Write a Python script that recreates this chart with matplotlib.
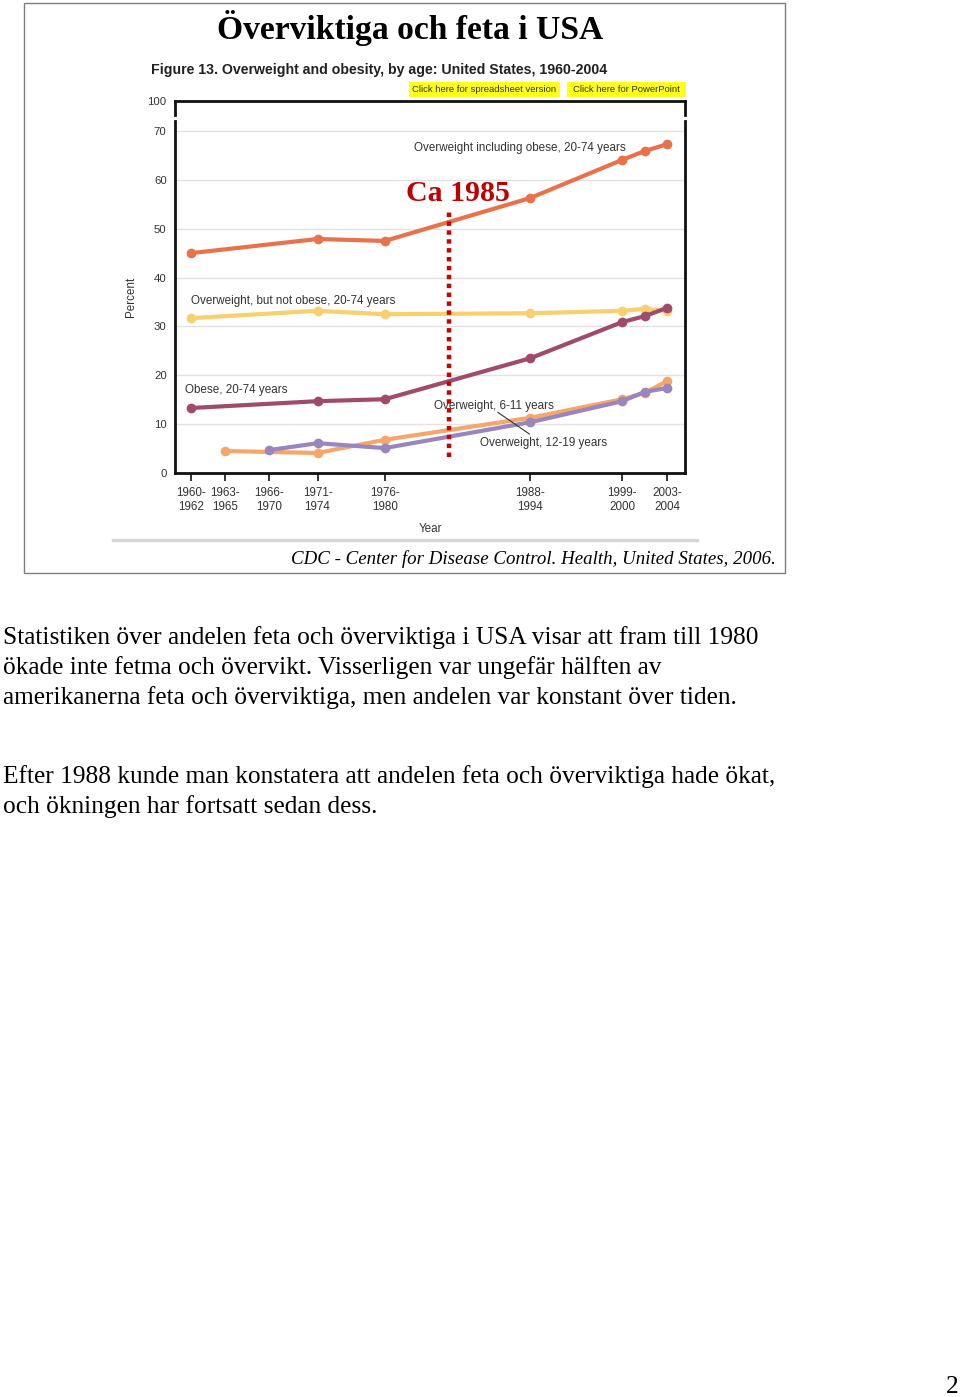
import matplotlib
matplotlib.use("Agg")
import matplotlib.pyplot as plt
from matplotlib.patches import Rectangle
from matplotlib.lines import Line2D

# ---------------- data ----------------
tick_years = [1961, 1964, 1968, 1972.3, 1978.3, 1991.3, 1999.5, 2003.5]
tick_labels = ["1960-\n1962", "1963-\n1965", "1966-\n1970", "1971-\n1974",
               "1976-\n1980", "1988-\n1994", "1999-\n2000", "2003-\n2004"]

adult_years = [1961, 1972.3, 1978.3, 1991.3, 1999.5, 2001.5, 2003.5]
overweight_incl_obese = [45.0, 47.9, 47.5, 56.3, 64.1, 65.9, 67.3]
overweight_not_obese = [31.7, 33.2, 32.5, 32.7, 33.2, 33.6, 33.2]
obese = [13.3, 14.7, 15.1, 23.5, 30.9, 32.1, 33.8]

child_years = [1964, 1972.3, 1978.3, 1991.3, 1999.5, 2001.5, 2003.5]
overweight_6_11 = [4.5, 4.1, 6.8, 11.3, 15.1, 16.4, 18.8]

teen_years = [1968, 1972.3, 1978.3, 1991.3, 1999.5, 2001.5, 2003.5]
overweight_12_19 = [4.7, 6.1, 5.1, 10.4, 14.7, 16.6, 17.4]

y_ticks = [0, 10, 20, 30, 40, 50, 60, 70]
marker_year = 1984

W, H = 960, 1397
fig = plt.figure(figsize=(W / 100, H / 100), dpi=100)
fig.patch.set_facecolor("white")

def fx(px):
    return px / W

def fy(py):
    return 1 - py / H

SERIF = ["Liberation Serif", "DejaVu Serif"]
SANS = ["Liberation Sans", "DejaVu Sans"]

# slide box
fig.add_artist(Rectangle((fx(24), fy(573)), fx(785) - fx(24), fy(3) - fy(573),
                         transform=fig.transFigure, fill=False,
                         edgecolor="#7f7f7f", lw=1.0))

fig.text(fx(410), fy(28), "Överviktiga och feta i USA", ha="center", va="center",
         family=SERIF, fontsize=24.2, fontweight="bold", color="black")

fig.text(fx(151), fy(70), "Figure 13. Overweight and obesity, by age: United States, 1960-2004",
         ha="left", va="center", family=SANS, fontsize=10.2, fontweight="bold", color="#222222")

# yellow buttons
for x0, x1, txt in [(409, 560, "Click here for spreadsheet version"),
                    (567, 686, "Click here for PowerPoint")]:
    fig.add_artist(Rectangle((fx(x0), fy(97)), fx(x1) - fx(x0), fy(82) - fy(97),
                             transform=fig.transFigure, facecolor="#ffff1a",
                             edgecolor="none"))
    fig.text(fx((x0 + x1) / 2), fy(89.5), txt, ha="center", va="center",
             family=SANS, fontsize=6.8, color="#333333")

# ---------------- main axes ----------------
ax_l, ax_r, ax_t, ax_b = 175, 685, 121, 473
ax = fig.add_axes([fx(ax_l), fy(ax_b), fx(ax_r) - fx(ax_l), fy(ax_t) - fy(ax_b)])
ax.set_xlim(1959.57, 2005.1)
ax.set_ylim(0, (473 - 121) / (342 / 70))
ax.set_yticks(y_ticks)
ax.set_yticklabels([str(v) for v in y_ticks], family=SANS, fontsize=8.2, color="#333333")
ax.set_xticks(tick_years)
ax.set_xticklabels(tick_labels, family=SANS, fontsize=8.4, color="#333333", linespacing=1.25)
ax.tick_params(axis="y", length=0, pad=6)
ax.tick_params(axis="x", length=6, width=1.3, color="#222222", direction="out", pad=4)
for v in y_ticks[1:]:
    ax.axhline(v, color="#e3e3e3", lw=1.0, zorder=0)
for s in ax.spines.values():
    s.set_linewidth(2.0)
    s.set_color("#111111")
ax.spines["top"].set_visible(False)
ax.set_xlabel("Year", family=SANS, fontsize=8.4, color="#333333", labelpad=7)
ax.set_ylabel("Percent", family=SANS, fontsize=8.4, color="#333333", labelpad=12)

lw, ms = 3.0, 6.0
ax.plot(adult_years, overweight_incl_obese, color="#E8734A", lw=lw, marker="o", ms=ms, zorder=3)
ax.plot(adult_years, overweight_not_obese, color="#F8D06E", lw=lw, marker="o", ms=ms, zorder=3)
ax.plot(adult_years, obese, color="#A04B6B", lw=lw, marker="o", ms=ms, zorder=4)
ax.plot(child_years, overweight_6_11, color="#F5A76A", lw=lw, marker="o", ms=ms, zorder=3)
ax.plot(teen_years, overweight_12_19, color="#9A86BF", lw=lw, marker="o", ms=ms, zorder=4)

lab = dict(family=SANS, fontsize=8.4, color="#333333", va="center", ha="left")
ax.text(1980.9, 66.6, "Overweight including obese, 20-74 years", **lab)
ax.text(1961.0, 35.2, "Overweight, but not obese, 20-74 years", **lab)
ax.text(1960.5, 17.0, "Obese, 20-74 years", **lab)
ax.text(1982.7, 13.7, "Overweight, 6-11 years", **lab)
ax.text(1986.8, 6.1, "Overweight, 12-19 years", **lab)
ax.plot([1988.4, 1991.2], [12.4, 8.0], color="#333333", lw=0.8, zorder=5)

# dotted red line + label
ax.plot([marker_year, marker_year], [3.3, 53.5], color="#CC0000", lw=3.2,
        linestyle=(0, (1.0, 1.0)), zorder=6)
ax.text(marker_year + 0.8, 57.3, "Ca 1985", ha="center", va="center",
        family=SERIF, fontsize=21.5, fontweight="bold", color="#C00000", zorder=7)

# ---------------- top break axes (100) ----------------
ax2 = fig.add_axes([fx(ax_l), fy(115), fx(ax_r) - fx(ax_l), fy(101) - fy(115)])
ax2.set_xlim(ax.get_xlim())
ax2.set_ylim(97, 100)
ax2.set_xticks([])
ax2.set_yticks([100])
ax2.set_yticklabels(["100"], family=SANS, fontsize=8.2, color="#333333")
ax2.tick_params(axis="y", length=0, pad=6)
ax2.patch.set_alpha(0)
ax2.spines["bottom"].set_visible(False)
for k in ["top", "left", "right"]:
    ax2.spines[k].set_linewidth(2.0)
    ax2.spines[k].set_color("#111111")

# gray rule under chart
fig.add_artist(Line2D([fx(113), fx(697)], [fy(540), fy(540)], transform=fig.transFigure,
                      color="#d5d5d5", lw=2.5))

fig.text(fx(776), fy(559), "CDC - Center for Disease Control. Health, United States, 2006.",
         ha="right", va="center", family=SERIF, fontsize=13.6, style="italic", color="black")

# ---------------- body text ----------------
body = dict(ha="left", va="center", family=SERIF, fontsize=18.3, color="black")
lines1 = ["Statistiken över andelen feta och överviktiga i USA visar att fram till 1980",
          "ökade inte fetma och övervikt. Visserligen var ungefär hälften av",
          "amerikanerna feta och överviktiga, men andelen var konstant över tiden."]
for i, t in enumerate(lines1):
    fig.text(fx(3), fy(637.5 + 30 * i), t, **body)
lines2 = ["Efter 1988 kunde man konstatera att andelen feta och överviktiga hade ökat,",
          "och ökningen har fortsatt sedan dess."]
for i, t in enumerate(lines2):
    fig.text(fx(3), fy(777 + 30 * i), t, **body)

fig.text(fx(952), fy(1387), "2", ha="center", va="center", family=SERIF, fontsize=18.3)

fig.savefig("out.png", dpi=100)
